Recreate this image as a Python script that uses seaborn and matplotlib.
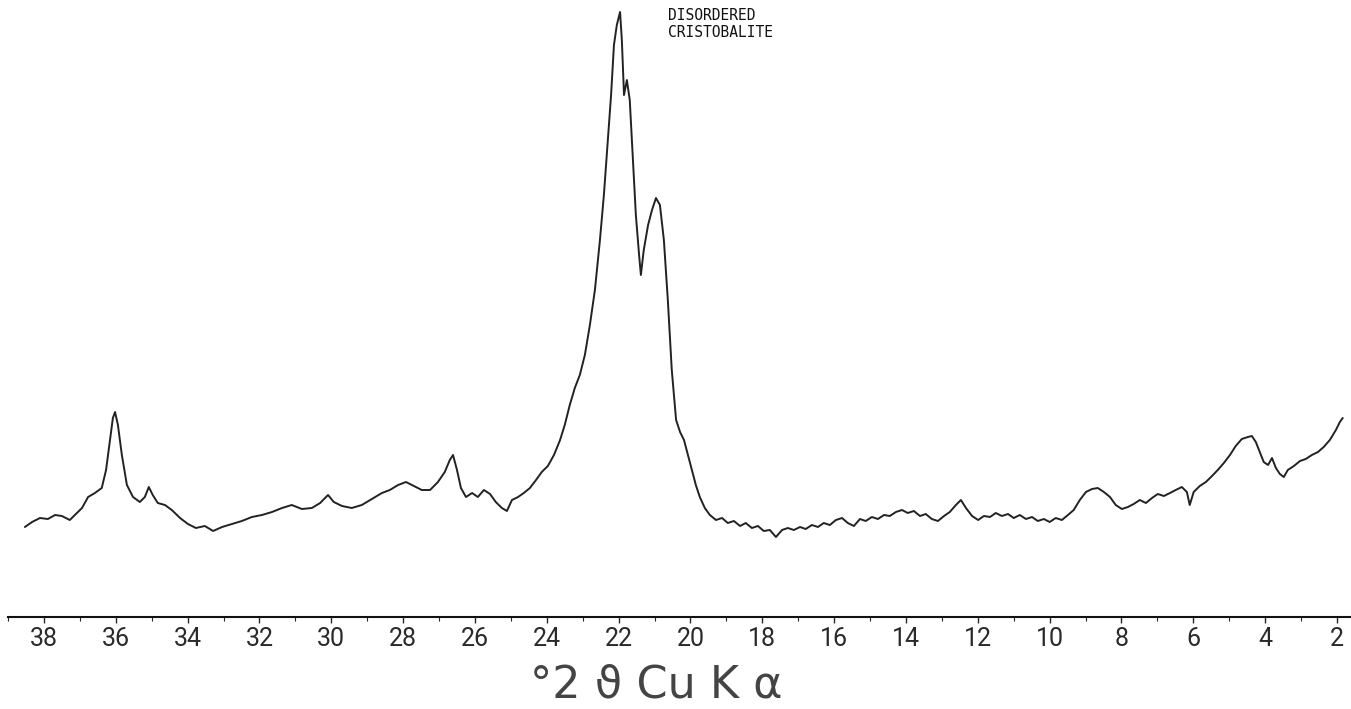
import numpy as np
import pandas as pd
import matplotlib
matplotlib.use("Agg")
import matplotlib.pyplot as plt
from matplotlib.ticker import MultipleLocator
import seaborn as sns

# diffractogram trace: degrees 2-theta and relative intensity
two_theta = [
    38.53, 38.33, 38.11, 37.89, 37.69, 37.50, 37.28, 37.11, 36.94, 36.77,
    36.58, 36.39, 36.27, 36.16, 36.08, 36.02, 35.94, 35.83, 35.69, 35.52,
    35.33, 35.19, 35.08, 34.97, 34.83, 34.63, 34.44, 34.21, 33.99, 33.77,
    33.52, 33.29, 33.04, 32.77, 32.49, 32.21, 31.93, 31.65, 31.37, 31.10,
    30.82, 30.54, 30.31, 30.09, 29.93, 29.70, 29.43, 29.15, 28.87, 28.59,
    28.37, 28.14, 27.92, 27.70, 27.48, 27.25, 27.03, 26.84, 26.70, 26.61,
    26.50, 26.39, 26.25, 26.08, 25.92, 25.75, 25.58, 25.42, 25.25, 25.11,
    24.97, 24.80, 24.64, 24.47, 24.30, 24.14, 23.97, 23.80, 23.63, 23.50,
    23.36, 23.22, 23.08, 22.94, 22.80, 22.66, 22.52, 22.41, 22.30, 22.21,
    22.13, 22.05, 21.96, 21.91, 21.85, 21.77, 21.69, 21.60, 21.52, 21.43,
    21.38, 21.30, 21.18, 21.07, 20.96, 20.85, 20.74, 20.63, 20.52, 20.40,
    20.29, 20.18, 20.07, 19.96, 19.85, 19.74, 19.60, 19.46, 19.29, 19.12,
    18.96, 18.79, 18.62, 18.46, 18.29, 18.12, 17.96, 17.79, 17.62, 17.45,
    17.29, 17.12, 16.95, 16.79, 16.62, 16.45, 16.29, 16.12, 15.95, 15.78,
    15.62, 15.45, 15.28, 15.12, 14.95, 14.78, 14.61, 14.45, 14.28, 14.11,
    13.95, 13.78, 13.61, 13.45, 13.28, 13.11, 12.94, 12.78, 12.61, 12.47,
    12.33, 12.16, 11.99, 11.83, 11.66, 11.50, 11.33, 11.16, 11.00, 10.83,
    10.66, 10.49, 10.33, 10.16, 10.00, 9.83, 9.66, 9.49, 9.33, 9.16,
    8.99, 8.82, 8.66, 8.49, 8.32, 8.16, 7.99, 7.82, 7.66, 7.49,
    7.32, 7.15, 6.99, 6.82, 6.65, 6.49, 6.32, 6.18, 6.10, 5.99,
    5.82, 5.65, 5.48, 5.32, 5.15, 4.98, 4.82, 4.65, 4.48, 4.37,
    4.26, 4.15, 4.04, 3.92, 3.81, 3.70, 3.59, 3.48, 3.37, 3.20,
    3.03, 2.87, 2.70, 2.53, 2.37, 2.20, 2.03, 1.92, 1.84,
]
intensity = [
    90, 95, 99, 98, 102, 101, 97, 103, 109, 120,
    124, 129, 147, 177, 199, 205, 192, 162, 132, 120,
    115, 120, 130, 122, 114, 112, 107, 99, 93, 89,
    91, 86, 90, 93, 96, 100, 102, 105, 109, 112,
    108, 109, 114, 122, 115, 111, 109, 112, 118, 124,
    127, 132, 135, 131, 127, 127, 135, 145, 157, 162,
    147, 129, 120, 124, 120, 127, 123, 115, 109, 106,
    117, 120, 124, 129, 137, 145, 151, 162, 177, 192,
    212, 229, 242, 262, 292, 327, 377, 422, 477, 522,
    572, 592, 605, 577, 522, 537, 517, 457, 402, 362,
    342, 367, 392, 407, 419, 412, 377, 317, 247, 197,
    185, 177, 162, 147, 132, 120, 109, 102, 97, 99,
    94, 96, 91, 94, 89, 91, 86, 87, 80, 87,
    89, 87, 90, 88, 92, 90, 94, 92, 97, 99,
    94, 91, 98, 96, 100, 98, 102, 101, 105, 107,
    104, 106, 101, 103, 98, 96, 101, 105, 112, 117,
    109, 101, 97, 101, 100, 104, 101, 103, 99, 102,
    98, 100, 96, 98, 95, 99, 97, 102, 107, 117,
    125, 128, 129, 125, 120, 112, 108, 110, 113, 117,
    114, 119, 123, 121, 124, 127, 130, 125, 112, 125,
    131, 135, 141, 147, 154, 162, 171, 178, 180, 181,
    175, 165, 155, 152, 159, 149, 143, 140, 147, 151,
    156, 158, 162, 165, 170, 177, 187, 195, 199,
]
tick_values = list(range(38, 1, -2))
annotation = "DISORDERED\nCRISTOBALITE"
x_title = "°2 ϑ Cu K α"

df = pd.DataFrame({"two_theta": two_theta, "intensity": intensity})

sns.set_style("white")
plt.rcParams["font.family"] = ["Roboto", "DejaVu Sans"]

fig = plt.figure(figsize=(13.51, 7.09), dpi=100)
ax = fig.add_axes([8 / 1351, 92 / 709, 1343 / 1351, 617 / 709])

sns.lineplot(data=df, x="two_theta", y="intensity", ax=ax, sort=False,
             estimator=None, color="#222222", linewidth=1.4)

ax.set_xlim(39.0, 1.61)
ax.set_ylim(0, 617)

for side in ["left", "top", "right"]:
    ax.spines[side].set_visible(False)
ax.spines["bottom"].set_linewidth(1.5)
ax.spines["bottom"].set_color("#111111")

ax.set_yticks([])
ax.set_xticks(tick_values)
ax.set_xticklabels([str(v) for v in tick_values])
ax.xaxis.set_minor_locator(MultipleLocator(1))
ax.tick_params(axis="x", which="major", direction="out", length=4, width=1,
               pad=3, labelsize=18, colors="#2a2a2a", bottom=True)
ax.tick_params(axis="x", which="minor", direction="out", length=3, width=0.8,
               bottom=True)

ax.set_ylabel("")
ax.set_xlabel(x_title, fontsize=32, color="#444444", fontweight="normal",
              family=["DejaVu Sans"])
ax.xaxis.set_label_coords(0.483, -0.110)
ax.xaxis.label.set_va("center")

ax.text(20.63, 609, annotation, ha="left", va="top",
        family="DejaVu Sans Mono", fontsize=10.5, linespacing=1.15,
        color="#111111")

fig.savefig("out.png", dpi=100)
